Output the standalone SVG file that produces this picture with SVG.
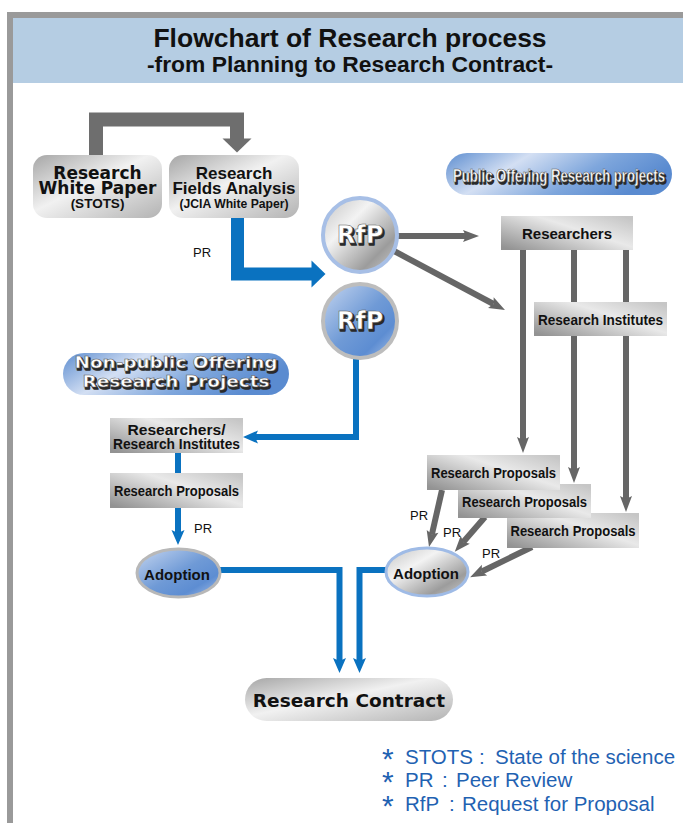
<svg xmlns="http://www.w3.org/2000/svg" width="683" height="823" viewBox="0 0 683 823">
  <defs>
    <style>
      .ttl { font-family: "Liberation Sans", Arial, sans-serif; font-weight: bold; fill: #111; text-anchor: middle; }
      .wide { font-family: "DejaVu Sans", sans-serif; font-weight: bold; fill: #111; text-anchor: middle; }
      .lbl { font-family: "Liberation Sans", Arial, sans-serif; font-weight: bold; fill: #111; text-anchor: middle; }
      .pr { font-family: "Liberation Sans", Arial, sans-serif; font-size: 13px; fill: #111; }
      .shadow { fill: #2a2a2a; stroke: #2a2a2a; stroke-width: 1.6; stroke-linejoin: round; }
      .white { fill: #fff; stroke: #555; stroke-width: 0.5; }
      .legend { font-family: "Liberation Sans", Arial, sans-serif; font-size: 20.5px; fill: #1f62b2; }
      .star { font-size: 30px; }
      .gline { fill: none; stroke: #666; stroke-width: 6; }
      .bline { fill: none; stroke: #0a72c0; stroke-width: 6; }
      .box { fill: url(#greyBox); }
    </style>
    <linearGradient id="greyPill" x1="0" y1="0" x2="1" y2="1">
      <stop offset="0" stop-color="#a6a6a6"/>
      <stop offset="0.45" stop-color="#f1f1f1"/>
      <stop offset="1" stop-color="#b3b3b3"/>
    </linearGradient>
    <linearGradient id="greyBox" x1="0" y1="0.9" x2="1" y2="0.1">
      <stop offset="0" stop-color="#939393"/>
      <stop offset="0.6" stop-color="#e9e9e9"/>
      <stop offset="1" stop-color="#c6c6c6"/>
    </linearGradient>
    <linearGradient id="bluePill" x1="0" y1="0" x2="1" y2="0.3">
      <stop offset="0" stop-color="#5e8ed0"/>
      <stop offset="0.35" stop-color="#d3dff3"/>
      <stop offset="0.7" stop-color="#7ea6dc"/>
      <stop offset="1" stop-color="#5a8bd0"/>
    </linearGradient>
    <linearGradient id="blueBall" x1="0" y1="0" x2="1" y2="1">
      <stop offset="0" stop-color="#c6d6f0"/>
      <stop offset="0.5" stop-color="#6f9ad6"/>
      <stop offset="0.75" stop-color="#5d8dd2"/>
      <stop offset="1" stop-color="#a9c2e8"/>
    </linearGradient>
    <linearGradient id="greyBall" x1="0" y1="0" x2="1" y2="1">
      <stop offset="0" stop-color="#c2c2c2"/>
      <stop offset="0.35" stop-color="#f3f3f3"/>
      <stop offset="0.75" stop-color="#9c9c9c"/>
      <stop offset="1" stop-color="#cfcfcf"/>
    </linearGradient>
    <!-- arrowheads -->
    <marker id="gHead" markerUnits="userSpaceOnUse" markerWidth="16" markerHeight="12" refX="3" refY="6" orient="auto" overflow="visible">
      <path d="M0,0 L16,6 L0,12 L3,6 z" fill="#666"/>
    </marker>
    <marker id="bHead" markerUnits="userSpaceOnUse" markerWidth="15" markerHeight="13" refX="3" refY="6.5" orient="auto" overflow="visible">
      <path d="M0,0 L15,6.5 L0,13 L3,6.5 z" fill="#0a72c0"/>
    </marker>
    <marker id="gBig" markerUnits="userSpaceOnUse" markerWidth="14" markerHeight="29" refX="0.5" refY="14.5" orient="auto" overflow="visible">
      <path d="M0,0 L14,14.5 L0,29 z" fill="#6e6e6e"/>
    </marker>
    <marker id="bBig" markerUnits="userSpaceOnUse" markerWidth="14" markerHeight="27" refX="0.5" refY="13.5" orient="auto" overflow="visible">
      <path d="M0,0 L14,13.5 L0,27 z" fill="#0a72c0"/>
    </marker>
  </defs>

  <!-- frame and header -->
  <rect x="0" y="0" width="683" height="823" fill="#fff"/>
  <rect x="7" y="12" width="676" height="6" fill="#9a9a9a"/>
  <rect x="7" y="12" width="6" height="811" fill="#9a9a9a"/>
  <rect x="13" y="18" width="670" height="65" fill="#b5cde3"/>
  <text class="ttl" x="350" y="47" font-size="26.5">Flowchart of Research process</text>
  <text class="ttl" x="350" y="72" font-size="22" textLength="406" lengthAdjust="spacingAndGlyphs">-from Planning to Research Contract-</text>

  <!-- connectors -->
  <g id="connectors">
    <path d="M96,156 V119.5 H237 V139" fill="none" stroke="#6e6e6e" stroke-width="14" marker-end="url(#gBig)"/>
    <path d="M237.5,217 V274 H312" fill="none" stroke="#0a72c0" stroke-width="13" marker-end="url(#bBig)"/>
    <path class="gline" d="M398,236 H466" marker-end="url(#gHead)"/>
    <path class="gline" d="M394,251 L493.5,304" marker-end="url(#gHead)"/>
    <path class="gline" d="M523,250 V440" marker-end="url(#gHead)"/>
    <path class="gline" d="M574,250 V470" marker-end="url(#gHead)"/>
    <path class="gline" d="M626,250 V499" marker-end="url(#gHead)"/>
    <path class="gline" d="M442,490 L431.9,534.3" marker-end="url(#gHead)"/>
    <path class="gline" d="M485,517 L463.3,542" marker-end="url(#gHead)"/>
    <path class="gline" d="M532,547 L481.8,571.5" marker-end="url(#gHead)"/>
    <path class="bline" d="M356,358 V437 H255" marker-end="url(#bHead)"/>
    <path class="bline" d="M178,452 V474"/>
    <path class="bline" d="M178,507 V533" marker-end="url(#bHead)"/>
    <path class="bline" d="M220,570 H339.5 V661" marker-end="url(#bHead)"/>
    <path class="bline" d="M386,570 H359.5 V661" marker-end="url(#bHead)"/>
  </g>

  <!-- PR labels -->
  <g id="pr-labels">
    <text class="pr" x="193" y="257" font-size="14.5">PR</text>
    <text class="pr" x="194" y="533">PR</text>
    <text class="pr" x="410" y="520">PR</text>
    <text class="pr" x="443" y="537">PR</text>
    <text class="pr" x="482" y="558">PR</text>
  </g>

  <g id="white-paper">
    <rect x="33" y="155" width="129" height="63" rx="14" fill="url(#greyPill)"/>
    <text class="wide" x="97.5" y="179" font-size="17">Research</text>
    <text class="wide" x="97.5" y="194" font-size="17">White Paper</text>
    <text class="lbl" x="97.5" y="208" font-size="13.5">(STOTS)</text>
  </g>

  <g id="fields-analysis">
    <rect x="169" y="155" width="130" height="63" rx="14" fill="url(#greyPill)"/>
    <text class="lbl" x="234" y="179" font-size="17">Research</text>
    <text class="lbl" x="234" y="194" font-size="17">Fields Analysis</text>
    <text class="lbl" x="234" y="208" font-size="13" textLength="109" lengthAdjust="spacingAndGlyphs">(JCIA White Paper)</text>
  </g>

  <g id="rfp-public">
    <circle cx="360" cy="235" r="37" fill="url(#greyBall)" stroke="#a7bfe6" stroke-width="4"/>
    <text class="wide shadow" x="361.5" y="244.5" font-size="24">RfP</text>
    <text class="wide white" x="360" y="243" font-size="24">RfP</text>
  </g>

  <g id="rfp-nonpublic">
    <circle cx="360" cy="321" r="37" fill="url(#blueBall)" stroke="#bdbdbd" stroke-width="4"/>
    <text class="wide shadow" x="361.5" y="330.5" font-size="24">RfP</text>
    <text class="wide white" x="360" y="329" font-size="24">RfP</text>
  </g>

  <g id="public-offering">
    <rect x="446" y="153" width="226" height="42" rx="21" fill="url(#bluePill)"/>
    <text class="lbl shadow" x="560.5" y="183.5" font-size="18" textLength="212" lengthAdjust="spacingAndGlyphs">Public Offering Research projects</text>
    <text class="lbl white" x="559" y="182" font-size="18" textLength="212" lengthAdjust="spacingAndGlyphs">Public Offering Research projects</text>
  </g>

  <g id="researchers">
    <rect class="box" x="501" y="216" width="132" height="34"/>
    <text class="lbl" x="567" y="239" font-size="15">Researchers</text>
  </g>

  <g id="research-institutes">
    <rect class="box" x="534" y="302" width="133" height="34"/>
    <text class="lbl" x="600.5" y="325" font-size="14.5" textLength="125" lengthAdjust="spacingAndGlyphs">Research Institutes</text>
  </g>

  <g id="proposals-3">
    <rect class="box" x="507" y="513" width="132" height="35"/>
    <text class="lbl" x="573" y="536" font-size="14.5" textLength="125" lengthAdjust="spacingAndGlyphs">Research Proposals</text>
  </g>
  <g id="proposals-2">
    <rect class="box" x="458" y="484" width="133" height="34"/>
    <text class="lbl" x="524.5" y="507" font-size="14.5" textLength="125" lengthAdjust="spacingAndGlyphs">Research Proposals</text>
  </g>
  <g id="proposals-1">
    <rect class="box" x="427" y="455" width="133" height="35"/>
    <text class="lbl" x="493.5" y="478" font-size="14.5" textLength="125" lengthAdjust="spacingAndGlyphs">Research Proposals</text>
  </g>

  <g id="adoption-public">
    <ellipse cx="427" cy="572" rx="41" ry="24" fill="url(#greyBall)" stroke="#9fbbe6" stroke-width="3"/>
    <text class="lbl" x="426" y="579" font-size="15">Adoption</text>
  </g>

  <g id="non-public-offering">
    <rect x="63" y="353" width="226" height="42" rx="21" fill="url(#bluePill)"/>
    <text class="wide shadow" x="177.5" y="369.5" font-size="15.5" textLength="203" lengthAdjust="spacingAndGlyphs">Non-public Offering</text>
    <text class="wide white" x="176" y="368" font-size="15.5" textLength="203" lengthAdjust="spacingAndGlyphs">Non-public Offering</text>
    <text class="wide shadow" x="177.5" y="388.5" font-size="15.5" textLength="187" lengthAdjust="spacingAndGlyphs">Research Projects</text>
    <text class="wide white" x="176" y="387" font-size="15.5" textLength="187" lengthAdjust="spacingAndGlyphs">Research Projects</text>
  </g>

  <g id="researchers-institutes">
    <rect class="box" x="110" y="418" width="133" height="35"/>
    <text class="lbl" x="176.5" y="435" font-size="14.5" textLength="98" lengthAdjust="spacingAndGlyphs">Researchers/</text>
    <text class="lbl" x="176.5" y="449" font-size="14.5" textLength="127" lengthAdjust="spacingAndGlyphs">Research Institutes</text>
  </g>

  <g id="proposals-nonpublic">
    <rect class="box" x="110" y="473" width="133" height="35"/>
    <text class="lbl" x="176.5" y="496" font-size="14.5" textLength="125" lengthAdjust="spacingAndGlyphs">Research Proposals</text>
  </g>

  <g id="adoption-nonpublic">
    <ellipse cx="178.5" cy="573" rx="41.5" ry="24" fill="url(#blueBall)" stroke="#b8b8b8" stroke-width="3"/>
    <text class="lbl" x="177" y="580" font-size="15">Adoption</text>
  </g>

  <g id="research-contract">
    <rect x="245" y="678" width="208" height="43" rx="21.5" fill="url(#greyPill)"/>
    <text class="wide" x="349" y="707" font-size="18.5">Research Contract</text>
  </g>

  <!-- abbreviations -->
  <g id="legend">
    <text class="legend" y="764"><tspan class="star" x="382" dy="5">*</tspan><tspan x="405" dy="-5">STOTS</tspan><tspan x="479">:</tspan><tspan x="495">State of the science</tspan></text>
    <text class="legend" y="787"><tspan class="star" x="382" dy="5">*</tspan><tspan x="405" dy="-5">PR</tspan><tspan x="442">:</tspan><tspan x="456">Peer Review</tspan></text>
    <text class="legend" y="811"><tspan class="star" x="382" dy="5">*</tspan><tspan x="405" dy="-5">RfP</tspan><tspan x="449">:</tspan><tspan x="462">Request for Proposal</tspan></text>
  </g>
</svg>
